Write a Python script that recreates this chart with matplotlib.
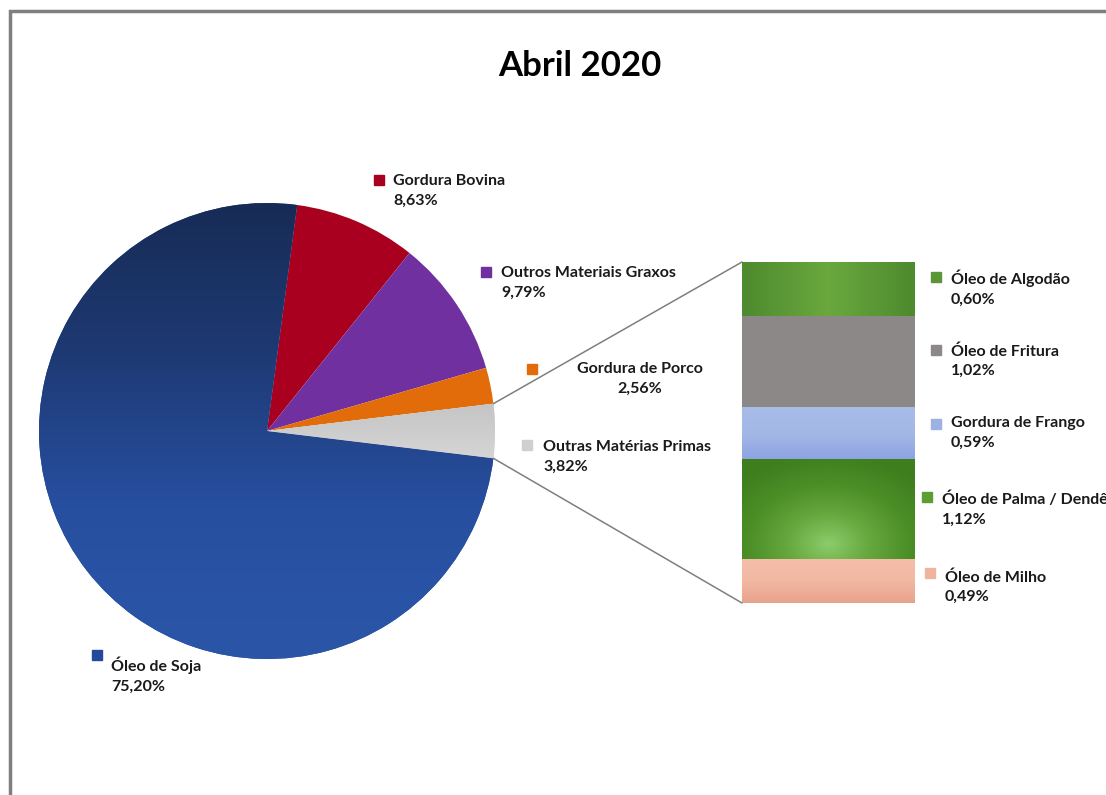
import numpy as np
import matplotlib.pyplot as plt
from matplotlib.patches import ConnectionPatch, Rectangle
from matplotlib.colors import LinearSegmentedColormap

plt.rcParams['font.family'] = ['Lato', 'DejaVu Sans']

# Pie data (share of raw materials, %)
pie_labels = ['Gordura Bovina', 'Outros Materiais Graxos', 'Gordura de Porco',
              'Outras Matérias Primas', 'Óleo de Soja']
pie_values = [8.63, 9.79, 2.56, 3.82, 75.20]
pie_colors = ['#A8001E', '#7030A0', '#E36C0A', '#CFCFCF', '#234A9A']

# Breakdown of "Outras Matérias Primas" (bottom to top in the bar)
bar_labels = ['Óleo de Milho', 'Óleo de Palma / Dendê', 'Gordura de Frango',
              'Óleo de Fritura', 'Óleo de Algodão']
bar_values = [0.49, 1.12, 0.59, 1.02, 0.60]
bar_colors = ['#F0B49E', '#5C9E34', '#9DB2E2', '#8C8888', '#5A9636']

W, H = 1106, 795
fig = plt.figure(figsize=(W / 100, H / 100), dpi=100)
ax = fig.add_axes([0, 0, 1, 1])

# start so that the "Outras Matérias Primas" wedge sits on the right horizontal
start = pie_values[3] / 2 * 3.6 + sum(pie_values[:3]) * 3.6
wedges, _ = ax.pie(pie_values, colors=pie_colors, startangle=start,
                   counterclock=False, center=(267, H - 431), radius=228,
                   frame=True, wedgeprops=dict(linewidth=0))
ax.set_xlim(0, W)
ax.set_ylim(0, H)
ax.set_aspect('equal')
ax.axis('off')


def gradient_fill(axis, patch, cmap_colors, extent, direction='v', radial=False):
    n = 256
    if radial:
        yy, xx = np.mgrid[0:1:n * 1j, 0:1:n * 1j]
        g = np.clip(np.hypot((xx - 0.5) * 1.4, (yy - 0.15) * 1.1), 0, 1)
    elif direction == 'v':
        g = np.linspace(0, 1, n)[:, None] * np.ones((1, 4))
    else:
        x = np.linspace(-1, 1, n)
        g = (np.abs(x))[None, :] * np.ones((4, 1))
    cm = LinearSegmentedColormap.from_list('g', cmap_colors)
    im = axis.imshow(g, cmap=cm, extent=extent, origin='lower',
                     aspect='auto', interpolation='bilinear', zorder=patch.get_zorder() + 0.1)
    im.set_clip_path(patch)


# soybean wedge: dark navy at top fading to blue below
soja = wedges[4]
cx, cy = soja.center
r = soja.r
gradient_fill(ax, soja, ['#2B56A8', '#274FA0', '#1E3A74', '#172B55'],
              [cx - r, cx + r, cy - r, cy + r])
grey = wedges[3]
gradient_fill(ax, grey, ['#D6D6D6', '#C4C4C4'], [cx, cx + r, cy - 30, cy + 30])
ax.set_xlim(0, W)
ax.set_ylim(0, H)

# frame around the chart area
ax.add_patch(Rectangle((10, -20), W + 20, H - 11 + 20, fill=False,
                       edgecolor='#7F7F7F', linewidth=2.5, zorder=0))

# stacked bar of the secondary breakdown
bx = fig.add_axes([742 / W, (H - 603) / H, 173 / W, 341 / H])
total = sum(bar_values)
bottoms = np.concatenate([[0], np.cumsum(bar_values)[:-1]])
bars = bx.bar([0.5] * len(bar_values), bar_values, width=1.0, bottom=bottoms,
              color=bar_colors, linewidth=0)
bx.set_xlim(0, 1)
bx.set_ylim(0, total)
bx.axis('off')

gradient_fill(bx, bars[4], ['#6AA83E', '#4E8A2E'],
              [0, 1, bottoms[4], bottoms[4] + bar_values[4]], direction='h')
gradient_fill(bx, bars[1], ['#8CCB6A', '#66A83E', '#4B8E26', '#3E7E1E'],
              [0, 1, bottoms[1], bottoms[1] + bar_values[1]], radial=True)
gradient_fill(bx, bars[2], ['#8EA3E3', '#A4B8E6', '#A9BCE8'],
              [0, 1, bottoms[2], bottoms[2] + bar_values[2]])
gradient_fill(bx, bars[0], ['#E8A28C', '#F2B8A2', '#F4BEA8'],
              [0, 1, bottoms[0], bottoms[0] + bar_values[0]])
bx.set_xlim(0, 1)
bx.set_ylim(0, total)

# lines joining the grey wedge to the bar
th1, th2 = np.deg2rad(grey.theta1), np.deg2rad(grey.theta2)
for th, yb in [(th2, total), (th1, 0)]:
    p = (cx + r * np.cos(th), cy + r * np.sin(th))
    con = ConnectionPatch(xyA=p, coordsA=ax.transData, xyB=(0, yb),
                          coordsB=bx.transData, color='#7F7F7F', linewidth=1.1)
    fig.add_artist(con)

ax.text(580, H - 66, 'Abril 2020', ha='center', va='center',
        fontsize=25, fontweight='bold', color='#000000')

# data labels: (marker x, marker y, text x, text y, alignment)
pie_label_pos = {
    'Gordura Bovina': (379, 180, 393, 191, 'left'),
    'Outros Materiais Graxos': (486, 272, 501, 283, 'left'),
    'Gordura de Porco': (532, 369, 640, 379, 'center'),
    'Outras Matérias Primas': (527, 445, 543, 457, 'left'),
    'Óleo de Soja': (97, 655, 111, 675, 'left'),
}
bar_label_pos = {
    'Óleo de Algodão': (936, 277, 951, 288),
    'Óleo de Fritura': (936, 350, 951, 361),
    'Gordura de Frango': (936, 424, 951, 433),
    'Óleo de Palma / Dendê': (927, 497, 942, 509),
    'Óleo de Milho': (930, 573, 945, 587),
}

def label(mx, my, tx, ty, name, value, color, ha='left'):
    ax.plot(mx, H - my, marker='s', markersize=6.5, color=color, linestyle='none')
    txt = f'{name}\n{value:.2f}%'.replace('.', ',')
    ax.text(tx, H - ty, txt, ha=ha, va='center', fontsize=11.5, fontweight='bold',
            color='#1A1A1A', linespacing=1.5, multialignment=ha)

for name, val, col in zip(pie_labels, pie_values, pie_colors):
    mx, my, tx, ty, ha = pie_label_pos[name]
    label(mx, my, tx, ty, name, val, col, ha)
for name, val, col in zip(bar_labels, bar_values, bar_colors):
    mx, my, tx, ty = bar_label_pos[name]
    label(mx, my, tx, ty, name, val, col)

fig.savefig('out.png', dpi=100)
